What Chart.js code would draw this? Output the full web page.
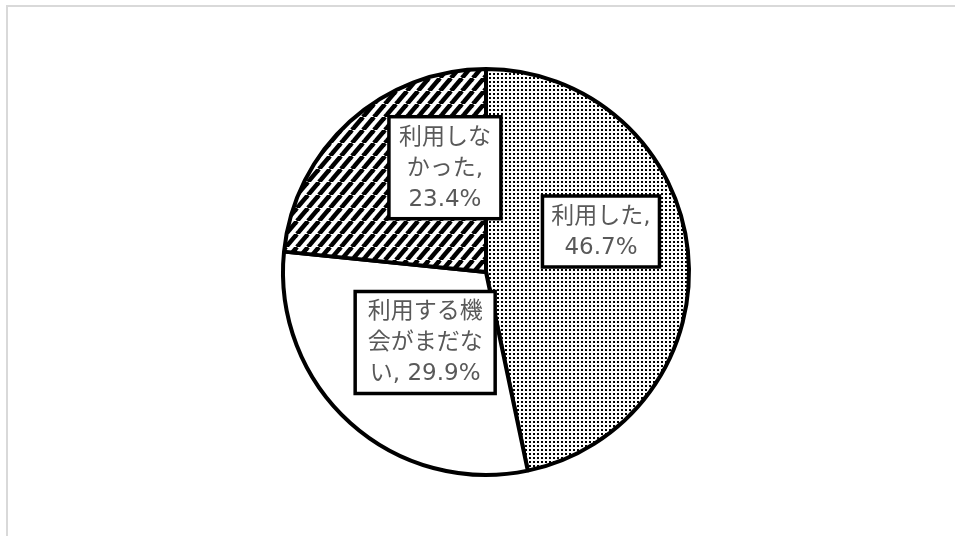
<!DOCTYPE html>
<html>
<head>
<meta charset="utf-8">
<script src="https://cdn.jsdelivr.net/npm/chart.js@4.4.0/dist/chart.umd.min.js"></script>
<style>
  html, body { margin: 0; padding: 0; background: #fff; }
  #wrap { position: absolute; left: 0; top: 0; width: 955px; height: 536px; }
</style>
</head>
<body>
<div id="wrap"><canvas id="myChart" width="955" height="536"></canvas></div>
<script>
'use strict';

// data
const categories = ["利用した", "利用する機会がまだない", "利用しなかった"];
const shares = [46.7, 29.9, 23.4];
// label text, split the way the boxes wrap it
const labelLines = [
    ["利用した,", "46.7%"],
    ["利用する機", "会がまだな", "い, 29.9%"],
    ["利用しな", "かった,", "23.4%"]
];

// label box look / where it sits relative to the slice centre
const labelBoxWidths = [117, 140, 112];
const labelOffsets = [[14, -30], [7, -5], [27, -29]];

// fill patterns
function dotPattern() {
    let c = document.createElement("canvas");
    c.width = 4;
    c.height = 4;
    let x = c.getContext("2d");
    x.fillStyle = "#fff";
    x.fillRect(0, 0, 4, 4);
    x.fillStyle = "#000";
    x.fillRect(1, 1, 2, 2);
    return x.createPattern(c, "repeat");
}

function hatchPattern() {
    let w = 11, h = 13;
    let c = document.createElement("canvas");
    c.width = w;
    c.height = h;
    let x = c.getContext("2d");
    x.fillStyle = "#fff";
    x.fillRect(0, 0, w, h);
    x.strokeStyle = "#000";
    x.lineWidth = 4.5;
    for (let k = -1; k <= 1; k++) {
        x.beginPath();
        x.moveTo(k * w, h);
        x.lineTo((k + 1) * w, 0);
        x.stroke();
    }
    return x.createPattern(c, "repeat");
}

// light grey frame round the whole thing
const framePlugin = {
    id: "frame",
    beforeDraw(chart) {
        const ctx = chart.ctx;
        ctx.save();
        ctx.strokeStyle = "#d9d9d9";
        ctx.lineWidth = 2;
        ctx.strokeRect(7, 6, 1200, 1200);
        ctx.restore();
    }
};

// boxed data labels
const boxLabels = {
    id: "boxLabels",
    afterDatasetsDraw(chart) {
        const ctx = chart.ctx;
        const arcs = chart.getDatasetMeta(0).data;
        const lineH = 31;
        ctx.save();
        ctx.font = "23px 'DejaVu Sans', 'Noto Sans CJK JP'";
        ctx.textAlign = "center";
        ctx.textBaseline = "middle";
        for (let i = 0; i < arcs.length; i++) {
            const p = arcs[i].tooltipPosition();
            const cx = p.x + labelOffsets[i][0];
            const cy = p.y + labelOffsets[i][1];
            const lines = labelLines[i];
            const bw = labelBoxWidths[i];
            const bh = lines.length * lineH + 9;

            ctx.fillStyle = "#fff";
            ctx.fillRect(cx - bw / 2, cy - bh / 2, bw, bh);
            ctx.strokeStyle = "#000";
            ctx.lineWidth = 3.5;
            ctx.strokeRect(cx - bw / 2, cy - bh / 2, bw, bh);

            ctx.fillStyle = "#595959";
            for (let j = 0; j < lines.length; j++) {
                let ty = cy + (j - (lines.length - 1) / 2) * lineH + 1;
                ctx.fillText(lines[j], cx, ty);
            }
        }
        ctx.restore();
    }
};

const data = {
    labels: categories,
    datasets: [{
        data: shares,
        backgroundColor: [dotPattern(), "#ffffff", hatchPattern()],
        borderColor: "#000",
        borderWidth: 4
    }]
};

const config = {
    type: "pie",
    data: data,
    options: {
        responsive: false,
        animation: false,
        layout: { padding: { top: 67, bottom: 59, left: 17, right: 0 } },
        plugins: {
            legend: { display: false },
            tooltip: { enabled: false }
        }
    },
    plugins: [framePlugin, boxLabels]
};

const myChart = new Chart(document.getElementById("myChart"), config);
</script>
</body>
</html>
